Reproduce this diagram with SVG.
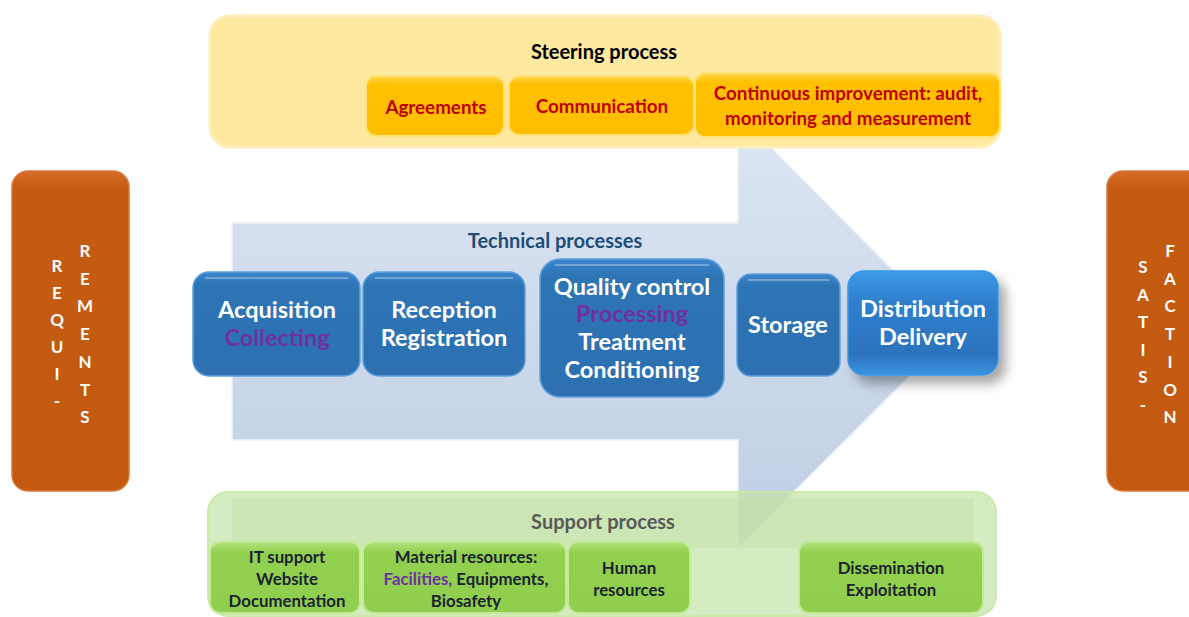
<svg xmlns="http://www.w3.org/2000/svg" width="1189" height="617" viewBox="0 0 1189 617">
<defs>
<linearGradient id="gArrow" x1="0" y1="0" x2="0" y2="1">
<stop offset="0" stop-color="#dce6f3"/>
<stop offset="1" stop-color="#bfcee4"/>
</linearGradient>
<linearGradient id="gBlue" x1="0" y1="0" x2="0" y2="1">
<stop offset="0" stop-color="#3b86cc"/>
<stop offset="0.12" stop-color="#2e75b6"/>
<stop offset="1" stop-color="#2c70b0"/>
</linearGradient>
<linearGradient id="gBlue2" x1="0" y1="0" x2="0" y2="1">
<stop offset="0" stop-color="#3d9ae8"/>
<stop offset="0.3" stop-color="#2f7fcd"/>
<stop offset="0.8" stop-color="#2c73bc"/>
<stop offset="1" stop-color="#3b94e0"/>
</linearGradient>
<linearGradient id="gGold" x1="0" y1="0" x2="0" y2="1">
<stop offset="0" stop-color="#ffd84a"/>
<stop offset="0.15" stop-color="#ffc000"/>
<stop offset="1" stop-color="#ffbf00"/>
</linearGradient>
<linearGradient id="gGreen" x1="0" y1="0" x2="0" y2="1">
<stop offset="0" stop-color="#b2e27a"/>
<stop offset="0.15" stop-color="#92d050"/>
<stop offset="1" stop-color="#90cf4e"/>
</linearGradient>
<linearGradient id="gOrange" x1="0" y1="0" x2="0" y2="1">
<stop offset="0" stop-color="#d46e28"/>
<stop offset="0.06" stop-color="#c55a11"/>
<stop offset="1" stop-color="#c45910"/>
</linearGradient>
<filter id="shadow" x="-20%" y="-20%" width="150%" height="160%">
<feDropShadow dx="7" dy="8" stdDeviation="6" flood-color="#000" flood-opacity="0.35"/>
</filter>
<style>
text{font-family:Lato,"Liberation Sans",sans-serif;font-weight:bold;text-anchor:middle}
.blue rect{fill:url(#gBlue);stroke:#5da0dc;stroke-width:1.5}
.blue text{fill:#fff;font-size:23.5px}
.gold rect{fill:url(#gGold);stroke:#ffe27a;stroke-width:2}
.gold text{fill:#c00000;font-size:18.8px}
.green rect{fill:url(#gGreen);stroke:#c2ea9a;stroke-width:2}
.green text{fill:#1c2230;font-size:16.8px}
.orange rect{fill:url(#gOrange);stroke:#d9793a;stroke-width:1.5}
.orange text{fill:#fff;font-size:17px}
g text.purple,g tspan.purple{fill:#7030a0}
.hl{fill:none;stroke:#fff;stroke-opacity:0.3;stroke-width:2}
</style>
</defs>
<rect width="1189" height="617" fill="#fff"/>

<g id="connectors">
<path d="M232 223 H738 V114 L954 331.5 L738 548 V440 H232 Z" fill="url(#gArrow)" stroke="#eef3fa" stroke-width="1.5"/>
</g>

<g id="steering-process">
<rect x="210" y="16" width="790" height="131" rx="20" fill="#fde9a0" stroke="#ffeeb8" stroke-width="3"/>
<text x="604" y="59" font-size="20" fill="#000">Steering process</text>
</g>
<g id="agreements" class="gold">
<rect x="366" y="76" width="138" height="60" rx="10"/>
<text x="436" y="114">Agreements</text>
</g>
<g id="communication" class="gold">
<rect x="509" y="76" width="185" height="59" rx="10"/>
<text x="602" y="113">Communication</text>
</g>
<g id="continuous-improvement" class="gold">
<rect x="695" y="73" width="305" height="64" rx="10"/>
<text x="848" y="100">Continuous improvement: audit,</text>
<text x="848" y="125">monitoring and measurement</text>
</g>

<g id="support-process">
<rect x="208" y="492" width="788" height="124" rx="20" fill="#c5e3a9" fill-opacity="0.72" stroke="#c9eaa8" stroke-width="2"/>
<rect x="232" y="498" width="741" height="50" fill="#c3e0a8" fill-opacity="0.45"/>
<text x="603" y="529" font-size="20" fill="#595959">Support process</text>
</g>

<g id="technical-processes">
<text x="555" y="248" font-size="20" fill="#1f4e79">Technical processes</text>
</g>

<g id="requirements" class="orange">
<rect x="12" y="171" width="117" height="320" rx="16"/>
<text x="57" y="272"><tspan x="57">R</tspan><tspan x="57" dy="27">E</tspan><tspan x="57" dy="27">Q</tspan><tspan x="57" dy="27">U</tspan><tspan x="57" dy="27">I</tspan><tspan x="57" dy="27">-</tspan></text>
<text x="85" y="257"><tspan x="85">R</tspan><tspan x="85" dy="27.7">E</tspan><tspan x="85" dy="27.7">M</tspan><tspan x="85" dy="27.7">E</tspan><tspan x="85" dy="27.7">N</tspan><tspan x="85" dy="27.7">T</tspan><tspan x="85" dy="27.7">S</tspan></text>
</g>
<g id="satisfaction" class="orange">
<rect x="1107" y="171" width="100" height="320" rx="16"/>
<text x="1143" y="273"><tspan x="1143">S</tspan><tspan x="1143" dy="27.5">A</tspan><tspan x="1143" dy="27.5">T</tspan><tspan x="1143" dy="27.5">I</tspan><tspan x="1143" dy="27.5">S</tspan><tspan x="1143" dy="27.5">-</tspan></text>
<text x="1170" y="257"><tspan x="1170">F</tspan><tspan x="1170" dy="27.7">A</tspan><tspan x="1170" dy="27.7">C</tspan><tspan x="1170" dy="27.7">T</tspan><tspan x="1170" dy="27.7">I</tspan><tspan x="1170" dy="27.7">O</tspan><tspan x="1170" dy="27.7">N</tspan></text>
</g>

<g id="acquisition" class="blue">
<rect x="193" y="272" width="167" height="104" rx="16"/>
<path class="hl" d="M205 278 H348"/>
<text x="277" y="318">Acquisition</text>
<text x="277" y="346" class="purple">Collecting</text>
</g>
<g id="reception" class="blue">
<rect x="363" y="272" width="162" height="104" rx="16"/>
<path class="hl" d="M375 278 H513"/>
<text x="444" y="318">Reception</text>
<text x="444" y="346">Registration</text>
</g>
<g id="quality-control" class="blue">
<rect x="540" y="259" width="184" height="138" rx="20"/>
<path class="hl" d="M555 265 H709"/>
<text x="632" y="295">Quality control</text>
<text x="632" y="322" class="purple">Processing</text>
<text x="632" y="350">Treatment</text>
<text x="632" y="378">Conditioning</text>
</g>
<g id="storage" class="blue">
<rect x="737" y="274" width="103" height="102" rx="14"/>
<path class="hl" d="M748 280 H829"/>
<text x="788" y="333">Storage</text>
</g>
<g id="distribution" class="blue">
<rect x="848" y="271" width="150" height="104" rx="16" filter="url(#shadow)" style="fill:url(#gBlue2);stroke:#3a96e6"/>
<text x="923" y="317">Distribution</text>
<text x="923" y="345">Delivery</text>
</g>

<g id="it-support" class="green">
<rect x="210" y="542" width="150" height="71" rx="10"/>
<text x="287" y="563">IT support</text>
<text x="287" y="585">Website</text>
<text x="287" y="607">Documentation</text>
</g>
<g id="material-resources" class="green">
<rect x="363" y="542" width="203" height="71" rx="10"/>
<text x="466" y="563">Material resources:</text>
<text x="466" y="585"><tspan class="purple">Facilities,</tspan> Equipments,</text>
<text x="466" y="607">Biosafety</text>
</g>
<g id="human-resources" class="green">
<rect x="568" y="542" width="122" height="71" rx="10"/>
<text x="629" y="574">Human</text>
<text x="629" y="596">resources</text>
</g>
<g id="dissemination" class="green">
<rect x="799" y="542" width="184" height="71" rx="10"/>
<text x="891" y="574">Dissemination</text>
<text x="891" y="596">Exploitation</text>
</g>
</svg>
